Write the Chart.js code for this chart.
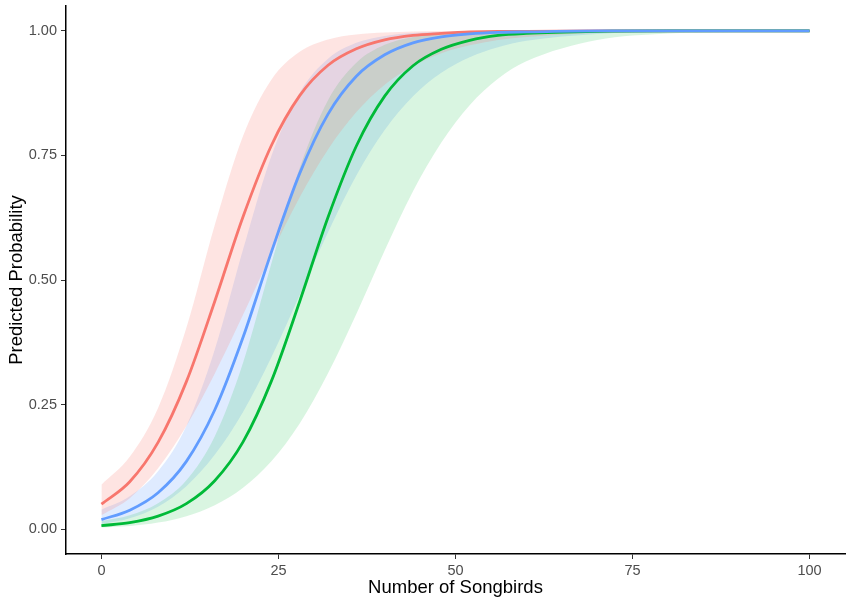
<!DOCTYPE html>
<html>
<head>
<meta charset="utf-8">
<title>Predicted Probability by Number of Songbirds</title>
<script src="https://cdn.jsdelivr.net/npm/chart.js@4.4.0/dist/chart.umd.min.js"></script>
<style>
  html, body { margin: 0; padding: 0; background: #ffffff; }
  #wrap { width: 850px; height: 605px; }
</style>
</head>
<body>
<div id="wrap"><canvas id="probChart" width="850" height="605"></canvas></div>
<script>
//#region data
// number of songbirds (x positions of the fitted values)
const xValues = [0, 4, 8, 12, 16, 20, 24, 28, 32, 36, 40, 44, 48, 52, 56, 60, 70, 80, 90, 100];

// red group: fitted probability and ribbon bounds
const redFit   = [0.050, 0.095, 0.174, 0.296, 0.457, 0.627, 0.770, 0.870, 0.931, 0.964, 0.982, 0.991, 0.995, 0.998, 0.999, 0.999, 1.000, 1.000, 1.000, 1.000];
const redUpper = [0.089, 0.145, 0.243, 0.404, 0.610, 0.789, 0.902, 0.958, 0.983, 0.993, 0.997, 0.999, 1.000, 1.000, 1.000, 1.000, 1.000, 1.000, 1.000, 1.000];
const redLower = [0.028, 0.062, 0.122, 0.207, 0.312, 0.430, 0.552, 0.666, 0.762, 0.837, 0.892, 0.929, 0.955, 0.971, 0.982, 0.988, 0.996, 0.999, 1.000, 1.000];

// blue group
const blueFit   = [0.019, 0.038, 0.073, 0.136, 0.239, 0.385, 0.556, 0.714, 0.833, 0.909, 0.952, 0.976, 0.988, 0.994, 0.997, 0.998, 1.000, 1.000, 1.000, 1.000];
const blueUpper = [0.039, 0.066, 0.116, 0.207, 0.360, 0.561, 0.749, 0.876, 0.944, 0.976, 0.990, 0.996, 0.998, 0.999, 1.000, 1.000, 1.000, 1.000, 1.000, 1.000];
const blueLower = [0.010, 0.022, 0.045, 0.086, 0.149, 0.235, 0.345, 0.470, 0.596, 0.710, 0.801, 0.869, 0.916, 0.947, 0.967, 0.980, 0.994, 0.998, 1.000, 1.000];

// green group
const greenFit   = [0.007, 0.013, 0.026, 0.051, 0.097, 0.175, 0.297, 0.457, 0.626, 0.769, 0.869, 0.930, 0.963, 0.981, 0.991, 0.995, 0.999, 1.000, 1.000, 1.000];
const greenUpper = [0.016, 0.028, 0.052, 0.098, 0.186, 0.334, 0.533, 0.725, 0.861, 0.936, 0.972, 0.988, 0.995, 0.998, 0.999, 1.000, 1.000, 1.000, 1.000, 1.000];
const greenLower = [0.003, 0.006, 0.013, 0.026, 0.048, 0.083, 0.136, 0.212, 0.313, 0.432, 0.559, 0.678, 0.776, 0.851, 0.904, 0.939, 0.982, 0.995, 0.998, 1.000];

// axis ticks
const xTicks = [0, 25, 50, 75, 100];
const yTicks = [0, 0.25, 0.5, 0.75, 1];
//#endregion

//#region helpers
// pair the x values with one series
function toPoints(values) {
  return xValues.map((x, i) => ({ x: x, y: values[i] }));
}

// upper bound that fills down to the dataset right after it
function ribbonUpper(values, fill) {
  return {
    data: toPoints(values),
    borderWidth: 0,
    pointRadius: 0,
    backgroundColor: fill,
    fill: "+1",
    cubicInterpolationMode: "monotone",
    order: 3,
  };
}

function ribbonLower(values) {
  return {
    data: toPoints(values),
    borderWidth: 0,
    pointRadius: 0,
    fill: false,
    cubicInterpolationMode: "monotone",
    order: 3,
  };
}

function fitLine(values, color, order) {
  return {
    data: toPoints(values),
    borderColor: color,
    borderWidth: 2.8,
    pointRadius: 0,
    fill: false,
    cubicInterpolationMode: "monotone",
    order: order,
  };
}
//#endregion

//#region chart
const tickFont = { family: "'Liberation Sans', Arial, sans-serif", size: 14.5 };
const titleFont = { family: "'Liberation Sans', Arial, sans-serif", size: 18.5 };

const ctx = document.getElementById("probChart").getContext("2d");

new Chart(ctx, {
  type: "line",
  data: {
    datasets: [
      ribbonUpper(redUpper, "rgba(248, 118, 109, 0.2)"),
      ribbonLower(redLower),
      ribbonUpper(greenUpper, "rgba(0, 186, 56, 0.15)"),
      ribbonLower(greenLower),
      ribbonUpper(blueUpper, "rgba(97, 156, 255, 0.2)"),
      ribbonLower(blueLower),
      fitLine(redFit, "#F8766D", 2),
      fitLine(greenFit, "#00BA38", 1),
      fitLine(blueFit, "#619CFF", 0),
    ],
  },
  options: {
    responsive: false,
    animation: false,
    layout: { padding: { top: 6, right: 5, left: 0, bottom: 0 } },
    plugins: {
      legend: { display: false },
      tooltip: { enabled: false },
    },
    scales: {
      x: {
        type: "linear",
        min: -5,
        max: 105,
        afterBuildTicks: (axis) => {
          axis.ticks = xTicks.map((v) => ({ value: v }));
        },
        afterFit: (axis) => {
          axis.height = 51;
          axis.paddingLeft = 0;
          axis.paddingRight = 0;
        },
        ticks: {
          color: "#4D4D4D",
          font: tickFont,
          padding: 3,
          maxRotation: 0,
          callback: (v) => String(v),
        },
        grid: {
          drawOnChartArea: false,
          drawTicks: true,
          tickLength: 5,
          color: "#333333",
          lineWidth: 1,
        },
        border: { display: true, color: "#000000", width: 1.5 },
        title: {
          display: true,
          text: "Number of Songbirds",
          color: "#000000",
          font: titleFont,
          padding: { top: 0, bottom: 6 },
        },
      },
      y: {
        type: "linear",
        min: -0.05,
        max: 1.05,
        afterBuildTicks: (axis) => {
          axis.ticks = yTicks.map((v) => ({ value: v }));
        },
        afterFit: (axis) => {
          axis.width = 66;
          axis.paddingTop = 0;
          axis.paddingBottom = 0;
        },
        ticks: {
          color: "#4D4D4D",
          font: tickFont,
          padding: 4,
          callback: (v) => Number(v).toFixed(2),
        },
        grid: {
          drawOnChartArea: false,
          drawTicks: true,
          tickLength: 5,
          color: "#333333",
          lineWidth: 1,
        },
        border: { display: true, color: "#000000", width: 1.5 },
        title: {
          display: true,
          text: "Predicted Probability",
          color: "#000000",
          font: titleFont,
          padding: { top: 6, bottom: 0 },
        },
      },
    },
  },
});
//#endregion
</script>
</body>
</html>
